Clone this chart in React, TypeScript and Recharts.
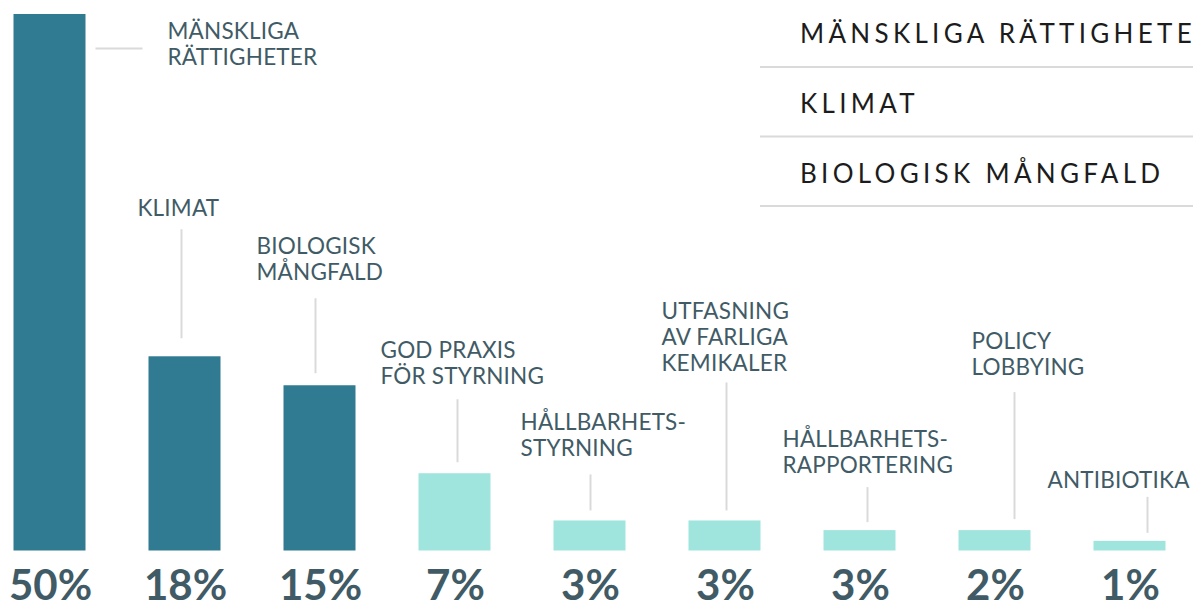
import React from 'react'
import { BarChart, Bar, XAxis, YAxis, Legend } from 'recharts'

const categories = [
  'MÄNSKLIGA RÄTTIGHETER',
  'KLIMAT',
  'BIOLOGISK MÅNGFALD',
  'GOD PRAXIS FÖR STYRNING',
  'HÅLLBARHETSSTYRNING',
  'UTFASNING AV FARLIGA KEMIKALER',
  'HÅLLBARHETSRAPPORTERING',
  'POLICY LOBBYING',
  'ANTIBIOTIKA',
]

const labelLines = [
  ['MÄNSKLIGA', 'RÄTTIGHETER'],
  ['KLIMAT'],
  ['BIOLOGISK', 'MÅNGFALD'],
  ['GOD PRAXIS', 'FÖR STYRNING'],
  ['HÅLLBARHETS-', 'STYRNING'],
  ['UTFASNING', 'AV FARLIGA', 'KEMIKALER'],
  ['HÅLLBARHETS-', 'RAPPORTERING'],
  ['POLICY', 'LOBBYING'],
  ['ANTIBIOTIKA'],
]

// bar heights as drawn (percent)
const shares = [50, 18.1, 15.4, 7.2, 2.8, 2.8, 1.9, 1.9, 0.9]
const shareLabels = ['50%', '18%', '15%', '7%', '3%', '3%', '3%', '2%', '1%']

const legendItems = ['MÄNSKLIGA RÄTTIGHETER', 'KLIMAT', 'BIOLOGISK MÅNGFALD']

const DARK = '#307b92'
const LIGHT = '#a0e5dd'
const TEXT = '#415b66'
const RULE = '#dadada'

// annotation placement, offsets from bar centre / bar top
const labelLayout = [
  { tx: 118, ty: 25, lx: 46, l1: 34.5, l2: 93, horizontal: true },
  { tx: -47, ty: -140, lx: -3, l1: -127, l2: -18 },
  { tx: -63, ty: -131, lx: -4, l1: -87, l2: -12 },
  { tx: -74, ty: -115, lx: 3, l1: -74, l2: -11 },
  { tx: -69, ty: -90, lx: 1, l1: -46, l2: -10 },
  { tx: -63, ty: -201, lx: 2, l1: -138, l2: -10 },
  { tx: -77, ty: -83, lx: 8, l1: -43, l2: -8 },
  { tx: -23, ty: -181, lx: 20, l1: -138, l2: -11 },
  { tx: -82, ty: -53, lx: 18, l1: -44, l2: -8 },
]

const data = categories.map((name, i) => ({ idx: i, name, share: shares[i] }))

function BarWithLabel(props: any) {
  const { x, y, width, height, payload } = props
  const i = payload.idx
  const cx = x + width / 2
  const lay = labelLayout[i]
  const fill = legendItems.includes(categories[i]) ? DARK : LIGHT
  return (
    <g>
      <rect x={x} y={y} width={width} height={height} fill={fill} />
      {lay.horizontal ? (
        <line x1={cx + lay.lx} x2={cx + lay.l2} y1={y + lay.l1} y2={y + lay.l1} stroke={RULE} strokeWidth={2} />
      ) : (
        <line x1={cx + lay.lx} x2={cx + lay.lx} y1={y + lay.l1} y2={y + lay.l2} stroke={RULE} strokeWidth={2} />
      )}
      <text x={cx + lay.tx} y={y + lay.ty} fill={TEXT} fontSize={22.5} letterSpacing={0.2} fontFamily="Lato">
        {labelLines[i].map((t, k) => (
          <tspan key={k} x={cx + lay.tx} dy={k === 0 ? 0 : 25.7}>{t}</tspan>
        ))}
      </text>
      <text x={cx + 1} y={y + height + 49.5} textAnchor="middle" fill={TEXT} fontSize={42} fontWeight={700} fontFamily="Lato">
        {shareLabels[i]}
      </text>
    </g>
  )
}

function TopicLegend() {
  return (
    <svg width={433} height={210} style={{ display: 'block' }}>
      {legendItems.map((t, i) => (
        <g key={t}>
          <text x={40} y={43 + i * 70} fontSize={26} fontFamily="Lato" fill="#1c1c1c" letterSpacing={4.3}>{t}</text>
          <line x1={0} x2={433} y1={67 + i * 69.5} y2={67 + i * 69.5} stroke={RULE} strokeWidth={2} />
        </g>
      ))}
    </svg>
  )
}

export default function App() {
  return (
    <div style={{ position: 'absolute', left: 0, top: 0, width: 1193, height: 604, overflow: 'hidden', background: '#fff' }}>
      <BarChart width={1193} height={604} data={data} margin={{ top: 14, right: 0, bottom: 53.5, left: 0 }} style={{ fontFamily: 'Lato' }}>
        <XAxis type="number" dataKey="idx" domain={[-50 / 135, 1143 / 135]} hide />
        <YAxis type="number" domain={[0, 50]} hide />
        <Legend
          layout="horizontal"
          verticalAlign="middle"
          content={() => <TopicLegend />}
          wrapperStyle={{ top: 0, left: 760, width: 433, height: 210 }}
        />
        <Bar dataKey="share" barSize={72} isAnimationActive={false} shape={BarWithLabel} />
      </BarChart>
    </div>
  )
}
